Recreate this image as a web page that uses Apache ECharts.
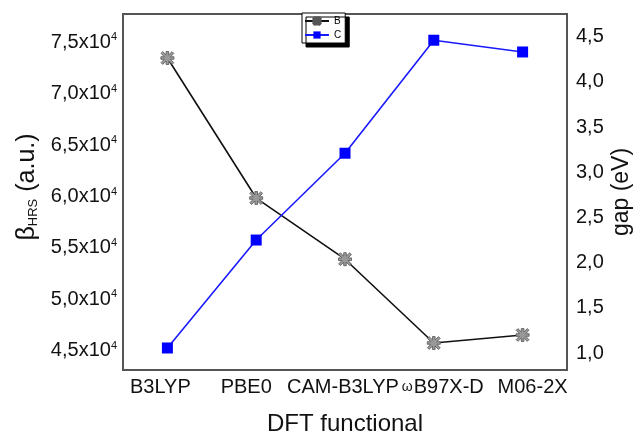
<!DOCTYPE html>
<html>
<head>
<meta charset="utf-8">
<script src="https://cdn.jsdelivr.net/npm/echarts@6/dist/echarts.min.js"></script>
<style>html,body{margin:0;padding:0;background:#fff;}#c{width:639px;height:440px;}</style>
</head>
<body>
<div id="c"></div>
<script>
var categories = ['B3LYP', 'PBE0', 'CAM-B3LYP', 'ωB97X-D', 'M06-2X'];
var betaB = [73470, 59850, 53900, 45750, 46530];
var gapC = [1.056, 2.25, 3.21, 4.46, 4.33];
var seriesNames = ['B', 'C'];

var FONT = '"Liberation Sans", Arial, sans-serif';
// horizontal nudge of each category label (reference labels are not centred on the points)
var labelShift = [-7, -10, -2, 12, 10];

var chart = echarts.init(document.getElementById('c'), null, {renderer: 'canvas'});
var star = 'path://M-1,-5 L1,-5 L1,-2.4 L3.6,-4.9 L4.9,-3.6 L2.4,-1 L5,-1 L5,1 L2.4,1 L4.9,3.6 L3.6,4.9 L1,2.4 L1,5 L-1,5 L-1,2.4 L-3.6,4.9 L-4.9,3.6 L-2.4,1 L-5,1 L-5,-1 L-2.4,-1 L-4.9,-3.6 L-3.6,-4.9 L-1,-2.4 Z';

function isMult(v, step) { var r = v / step; return Math.abs(r - Math.round(r)) < 1e-6; }

var xRich = {};
labelShift.forEach(function (s, i) {
  var pad = s < 0 ? [0, -2 * s, 0, 0] : [0, 0, 0, 2 * s];
  xRich['c' + i] = {fontSize: 20, color: '#111', fontFamily: FONT, padding: pad};
});
xRich.w = {fontSize: 14, color: '#111', fontFamily: FONT, padding: [0, 1, 0, 2 * labelShift[3] - 6]};
xRich.wt = {fontSize: 20, color: '#111', fontFamily: FONT};

chart.setOption({
  animation: false,
  backgroundColor: '#fff',
  textStyle: {fontFamily: FONT},
  grid: {left: 123, right: 72, top: 14, bottom: 70, show: true, borderColor: '#555', borderWidth: 2,
         backgroundColor: 'transparent', containLabel: false, outerBoundsMode: 'none'},
  legend: {
    left: 302, top: 13, orient: 'vertical', itemGap: 4, itemWidth: 24, itemHeight: 9,
    padding: [3, 4, 3, 2],
    backgroundColor: '#fff', borderColor: '#000', borderWidth: 1,
    shadowColor: '#000', shadowOffsetX: 4, shadowOffsetY: 4, shadowBlur: 0,
    textStyle: {fontSize: 10, color: '#000', fontFamily: FONT},
    data: seriesNames
  },
  xAxis: {
    type: 'category', data: categories, boundaryGap: true,
    axisLine: {show: false}, axisTick: {show: false}, splitLine: {show: false},
    axisLabel: {
      margin: 7, interval: 0,
      formatter: function (v, i) {
        if (v.charAt(0) === 'ω') return '{w|ω}{wt|' + v.slice(1) + '}';
        return '{c' + i + '|' + v + '}';
      },
      rich: xRich
    },
    name: 'DFT functional', nameLocation: 'middle', nameGap: 42,
    nameTextStyle: {fontSize: 24, color: '#111', fontFamily: FONT}
  },
  yAxis: [{
    type: 'value', position: 'left', min: 43125, max: 77750, interval: 625,
    axisLine: {show: false}, axisTick: {show: false}, splitLine: {show: false},
    axisLabel: {
      margin: 6, color: '#111',
      formatter: function (v) {
        if (!isMult(v, 5000)) return '';
        return '{n|' + (v / 10000).toFixed(1).replace('.', ',') + 'x10}{s|4}';
      },
      rich: {
        n: {fontSize: 20, color: '#111', fontFamily: FONT},
        s: {fontSize: 11, color: '#111', fontFamily: FONT, verticalAlign: 'top', padding: [0, 0, 10, 0]}
      }
    },
    name: '{b|β}{sub|HRS}{b| (a.u.)}', nameLocation: 'middle', nameGap: 52, nameRotate: 90,
    nameTextStyle: {
      padding: [0, 0, 0, 10],
      rich: {
        b: {fontSize: 25, color: '#111', fontFamily: FONT},
        sub: {fontSize: 13, color: '#111', fontFamily: FONT, verticalAlign: 'bottom', padding: [10, 0, 0, 0]}
      }
    }
  }, {
    type: 'value', position: 'right', min: 0.8125, max: 4.75, interval: 0.0625,
    axisLine: {show: false}, axisTick: {show: false}, splitLine: {show: false},
    axisLabel: {
      margin: 9, color: '#111', fontSize: 20, fontFamily: FONT,
      formatter: function (v) {
        if (!isMult(v, 0.5)) return '';
        return v.toFixed(1).replace('.', ',');
      }
    },
    name: 'gap (eV)', nameLocation: 'middle', nameGap: 43, nameRotate: 90, nameMoveOverlap: false,
    nameTextStyle: {fontSize: 23, color: '#111', fontFamily: FONT}
  }],
  series: [{
    name: seriesNames[0], type: 'line', yAxisIndex: 0, data: betaB,
    symbol: star, symbolSize: 13,
    lineStyle: {color: '#111', width: 1.6},
    itemStyle: {color: '#999', borderColor: '#555', borderWidth: 0.8}
  }, {
    name: seriesNames[1], type: 'line', yAxisIndex: 1, data: gapC,
    symbol: 'rect', symbolSize: 11,
    lineStyle: {color: '#1a1aff', width: 1.6},
    itemStyle: {color: '#0000ff'}
  }]
});
</script>
</body>
</html>
